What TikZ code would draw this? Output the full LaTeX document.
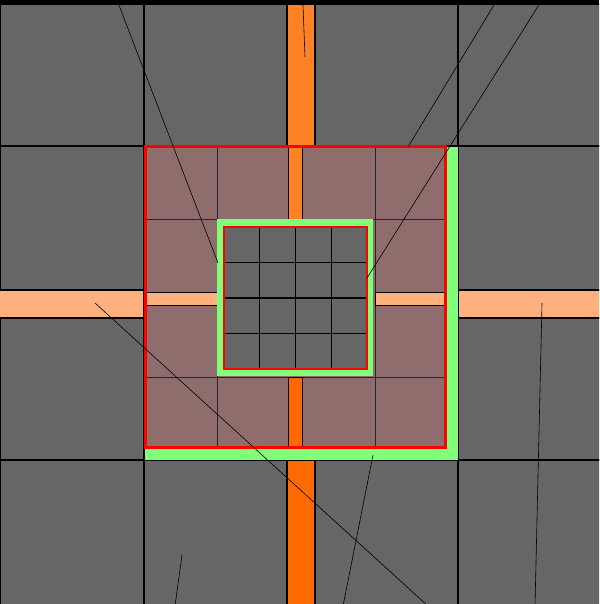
\documentclass[tikz,border=0pt]{standalone}
\usetikzlibrary{positioning}

\definecolor{tilegray}{HTML}{666666}
\definecolor{road-n}{HTML}{FF8126}
\definecolor{road-s}{HTML}{FF6A00}
\definecolor{road-we}{HTML}{FFB07F}
\definecolor{zone}{HTML}{8F6D6D}
\definecolor{rim}{HTML}{80FF78}

\tikzset{
	tile/.style={fill=tilegray, draw=black, line width=2pt},
	road/.style={draw=black, line width=2pt},
	inroad/.style={draw=black, line width=0.6pt},
	cut/.style={draw=black!85, line width=0.8pt},
	ray/.style={draw=black, line width=0.6pt}
}

\begin{document}
\begin{tikzpicture}[x=1pt, y=-1pt]
\useasboundingbox (0,0) rectangle (599,604);
\clip (0,0) rectangle (599,604);

% outer tiles
\path[tile] (0,4) rectangle (144,146);
\path[tile] (144,4) rectangle (287,146);
\path[tile] (315,4) rectangle (458,146);
\path[tile] (458,4) rectangle (612,146);
\path[tile] (0,146) rectangle (144,290);
\path[tile] (0,318) rectangle (144,460);
\path[tile] (458,146) rectangle (612,290);
\path[tile] (458,318) rectangle (612,460);
\path[tile] (0,460) rectangle (144,612);
\path[tile] (144,460) rectangle (287,612);
\path[tile] (315,460) rectangle (458,612);
\path[tile] (458,460) rectangle (612,612);

% outer roads
\path[road, fill=road-n] (287,4) rectangle (315,146);
\path[road, fill=road-s] (287,460) rectangle (315,612);
\path[road, fill=road-we] (-2,290) rectangle (144,318);
\path[road, fill=road-we] (458,290) rectangle (612,318);
\fill[black] (0,0) rectangle (599,4);

% centre zone
\fill[rim] (145,147) rectangle (458,460);
\fill[zone] (145,147) rectangle (445,447);
\foreach \x in {217,375} \draw[cut] (\x,147) -- (\x,447);
\foreach \y in {219,377} \draw[cut] (145,\y) -- (445,\y);
\path[inroad, fill=road-n] (288,147) rectangle (302,219);
\path[inroad, fill=road-s] (288,377) rectangle (302,447);
\path[inroad, fill=road-we] (145,292) rectangle (217,305);
\path[inroad, fill=road-we] (375,292) rectangle (445,305);
\draw[red, line width=3pt] (145,147) rectangle (445,447);

% inner block
\draw[rim, line width=7pt] (220.5,222.5) rectangle (369.5,372.5);
\path[fill=tilegray] (224,227) rectangle (367,369);
\foreach \x in {259.75,295.5,331.25} \draw[black, line width=1.2pt] (\x,227) -- (\x,369);
\foreach \y in {262.5,298,333.5} \draw[black, line width=1.2pt] (224,\y) -- (367,\y);
\draw[red, line width=1.6pt] (224,227) rectangle (367,369);

% rays
\draw[ray] (117,0) -- (218,263);
\draw[ray] (303,5) -- (305,57);
\draw[ray] (497,0) -- (408,147);
\draw[ray] (542,0) -- (367,278);
\draw[ray] (95,303) -- (428,606);
\draw[ray] (182,555) -- (175,606);
\draw[ray] (373,455) -- (343,606);
\draw[ray] (542,303) -- (535,606);
\end{tikzpicture}
\end{document}
